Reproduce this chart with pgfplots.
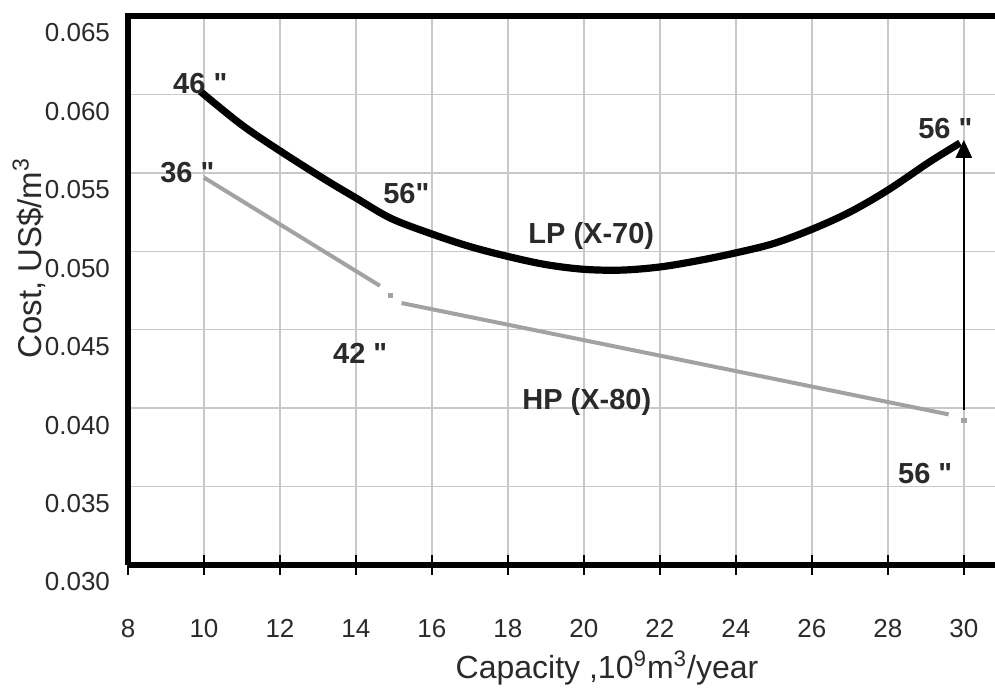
\documentclass[border=0pt]{standalone}
\usepackage{fontspec}
\setmainfont{Liberation Sans}
\usepackage{pgfplots}
\pgfplotsset{compat=1.18}
\usetikzlibrary{arrows.meta}

\definecolor{gridgray}{HTML}{C8C8C8}
\definecolor{hpgray}{HTML}{A2A2A2}
\definecolor{txt}{HTML}{2A2A2A}

\newcommand{\ann}{\fontsize{14.5}{17}\selectfont\bfseries\color{txt}}
% straight double quote, bypassing the TeX ligature mapping
\newcommand{\dq}{\XeTeXglyph\XeTeXcharglyph34\relax}

\begin{document}
\begin{tikzpicture}
\begin{axis}[
    name=ax,
    scale only axis,
    width=433.5pt, height=274.5pt,
    xmin=8, xmax=30.82,
    ymin=0.030, ymax=0.065,
    xtick={8,10,...,30},
    ytick={0.030,0.035,...,0.065},
    axis x line*=bottom, axis y line*=left,
    x axis line style={-}, y axis line style={-},
    axis line style={line width=3.4pt, black},
    grid=major,
    major grid style={gridgray, line width=0.7pt},
    tick align=center,
    major tick length=10pt,
    xtick style={black, line width=1pt},
    ytick style={draw=none},
    /pgf/number format/assume math mode=true,
    scaled y ticks=false,
    yticklabel style={/pgf/number format/fixed, /pgf/number format/fixed zerofill,
      /pgf/number format/precision=3, font=\fontsize{13}{15}\selectfont,
      text=txt, yshift=-8.5pt, xshift=-0.5pt},
    xticklabel style={font=\fontsize{13}{15}\selectfont, text=txt, yshift=-18pt,
      text height=9.5pt, text depth=0pt},
    every axis x label/.style={at={(axis description cs:0.5525,0)}, anchor=center,
      yshift=-51.5pt, font=\fontsize{16}{19}\selectfont, text=txt},
    every axis y label/.style={at={(axis description cs:-0.1142,0.559)}, rotate=90,
      anchor=center, font=\fontsize{16.5}{19}\selectfont, text=txt},
    xlabel={Capacity ,10\textsuperscript{9}m\textsuperscript{3}/year},
    ylabel={Cost, US\$/m\textsuperscript{3}},
    clip=false,
]
% LP (X-70)
\addplot[black, line width=3.6pt, smooth, tension=0.55] coordinates {
  (9.9,0.0602) (10.97,0.0581) (12.0,0.0564) (13.17,0.0546) (14.0,0.0534)
  (14.92,0.0521) (16.0,0.0511) (17.0,0.0503) (18.0,0.04967) (19.0,0.04915)
  (20.0,0.04885) (21.0,0.04880) (22.0,0.04900) (23.0,0.04940) (24.0,0.04990)
  (25.0,0.0505) (26.0,0.05140) (27.0,0.0525) (28.0,0.0539) (29.1,0.0557)
  (29.9,0.0569)
};
% HP (X-80)
\addplot[hpgray, line width=2pt] coordinates {(10.0,0.0547) (14.63,0.0478)};
\addplot[hpgray, line width=2pt] coordinates {(15.2,0.0467) (29.6,0.0396)};
\addplot[hpgray, only marks, mark=square*, mark size=1.1pt] coordinates {(14.9,0.0472) (30,0.0392)};
% vertical step to the LP end
\addplot[black, line width=1.3pt, -{Triangle[width=8pt,length=9pt]}] coordinates {(30,0.0399) (30,0.0571)};

\node[anchor=west, inner sep=0pt] at (axis cs:9.18,0.0607) {\ann 46 \dq};
\node[anchor=west, inner sep=0pt] at (axis cs:8.84,0.0550) {\ann 36 \dq};
\node[anchor=west, inner sep=0pt] at (axis cs:14.71,0.0537) {\ann 56\dq};
\node[anchor=west, inner sep=0pt] at (axis cs:18.53,0.0510) {\ann LP (X-70)};
\node[anchor=west, inner sep=0pt] at (axis cs:13.39,0.0435) {\ann 42 \dq};
\node[anchor=west, inner sep=0pt] at (axis cs:18.37,0.0404) {\ann HP (X-80)};
\node[anchor=west, inner sep=0pt] at (axis cs:28.79,0.0578) {\ann 56 \dq};
\node[anchor=west, inner sep=0pt] at (axis cs:28.26,0.0358) {\ann 56 \dq};

\draw[line width=3.4pt, black] (rel axis cs:-0.004,1) -- (rel axis cs:1,1);
\end{axis}
\pgfresetboundingbox
\path ([shift={(-64pt,-64pt)}]ax.south west) rectangle ([yshift=8pt]ax.north east);
\end{tikzpicture}
\end{document}
